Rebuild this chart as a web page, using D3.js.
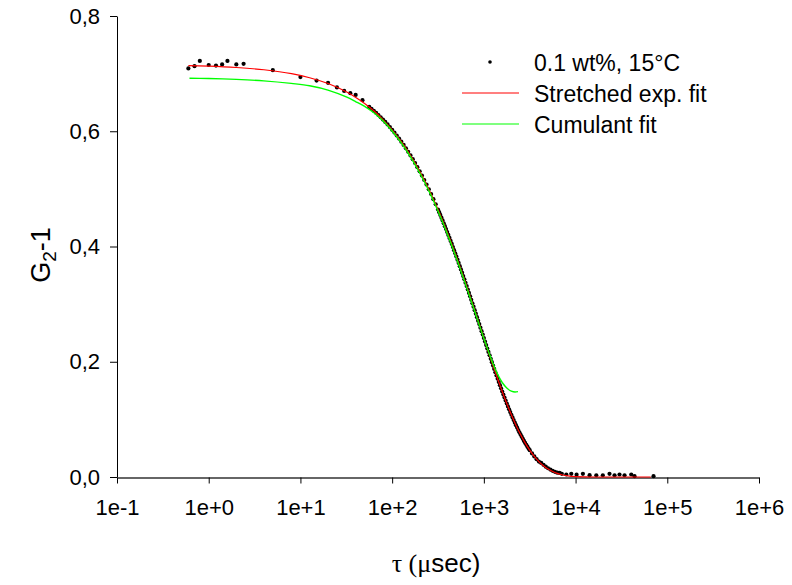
<!DOCTYPE html>
<html>
<head>
<meta charset="utf-8">
<script src="https://cdn.jsdelivr.net/npm/d3@7"></script>
<style>
    body { margin: 0; background: #fff; }
    svg { display: block; font-family: "Liberation Sans", Arial, sans-serif; }
</style>
</head>
<body>
<svg id="chart" width="792" height="585"></svg>
<script>
// measured data: delay time tau (usec) and G2-1
var tauData = [0.6, 0.7, 0.8, 1.0, 1.2, 1.4, 1.6, 2.0, 2.4, 5, 10, 15, 20, 25, 30, 35, 40, 47.5,
    56.23, 59.57, 63.10, 66.83, 70.79, 74.99, 79.43, 84.14, 89.13, 94.41, 100.0, 105.9, 112.2, 118.9,
    125.9, 133.4, 141.3, 149.6, 158.5, 167.9, 177.8, 188.4, 199.5, 211.3, 223.9, 237.1, 251.2, 266.1,
    281.8, 298.5, 316.2, 325.5, 335.0, 344.7, 354.8, 365.2, 375.8, 386.8, 398.1, 409.7, 421.7, 434.0,
    446.7, 459.7, 473.2, 487.0, 501.2, 515.8, 530.9, 546.4, 562.3, 578.8, 595.7, 613.1, 631.0, 649.4,
    668.3, 687.9, 707.9, 728.6, 749.9, 771.8, 794.3, 817.5, 841.4, 866.0, 891.3, 917.3, 944.1, 971.7,
    1000, 1029, 1059, 1090, 1122, 1155, 1189, 1223, 1259, 1296, 1334, 1373, 1413, 1454, 1496, 1540,
    1585, 1631, 1679, 1728, 1778, 1830, 1884, 1939, 1995, 2054, 2113, 2175, 2239, 2304, 2371, 2441,
    2512, 2585, 2661, 2738, 2818, 2901, 2985, 3073, 3162, 3350, 3548, 3758, 3981, 4217, 4467, 4732,
    5012, 5309, 5623, 5957, 6310, 6700, 7079, 7925, 8980, 10260, 12020, 14220, 16830, 19830, 23440,
    26600, 30130, 34200, 40460, 43950, 70790];
var g2Data = [0.709, 0.713, 0.722, 0.715, 0.714, 0.716, 0.722, 0.716, 0.717, 0.706, 0.694, 0.688, 0.684, 0.676, 0.670, 0.666, 0.663, 0.654,
    0.6422, 0.6389, 0.6355, 0.6319, 0.6282, 0.6243, 0.6203, 0.6161, 0.6118, 0.6072, 0.6025, 0.5977, 0.5926, 0.5873,
    0.5819, 0.5762, 0.5704, 0.5643, 0.5580, 0.5515, 0.5447, 0.5377, 0.5305, 0.5231, 0.5154, 0.5075, 0.4993, 0.4909,
    0.4822, 0.4733, 0.4642, 0.4595, 0.4548, 0.4500, 0.4452, 0.4403, 0.4353, 0.4303, 0.4252, 0.4201, 0.4149, 0.4097,
    0.4044, 0.3990, 0.3936, 0.3882, 0.3827, 0.3771, 0.3715, 0.3659, 0.3602, 0.3545, 0.3487, 0.3430, 0.3371, 0.3313,
    0.3254, 0.3194, 0.3135, 0.3075, 0.3015, 0.2955, 0.2895, 0.2834, 0.2774, 0.2713, 0.2653, 0.2592, 0.2531, 0.2471,
    0.2410, 0.2350, 0.2290, 0.2230, 0.2170, 0.2111, 0.2051, 0.1993, 0.1934, 0.1876, 0.1818, 0.1761, 0.1705, 0.1649, 0.1593, 0.1539,
    0.1484, 0.1431, 0.1378, 0.1327, 0.1275, 0.1225, 0.1176, 0.1127, 0.1080, 0.1033, 0.0988, 0.0943, 0.0900, 0.0857, 0.0816, 0.0776,
    0.0737, 0.0699, 0.0662, 0.0626, 0.0592, 0.0558, 0.0526, 0.0495, 0.0465, 0.0409, 0.0357, 0.0310, 0.0268, 0.0245, 0.0212, 0.0180,
    0.0152, 0.0128, 0.0108, 0.0090, 0.0075, 0.0070, 0.0055, 0.0043, 0.0055, 0.0040, 0.0055, 0.0032, 0.0030, 0.0030, 0.0055,
    0.0030, 0.0043, 0.0030, 0.0043, 0.0014, 0.0014];

// stretched exponential fit
var tauStretched = [0.6, 1, 2, 4, 8, 12.6, 20, 31.6, 39.8, 50.1, 63.1, 79.4, 100, 112.2, 125.9, 141.3, 158.5, 177.8,
    199.5, 223.9, 251.2, 281.8, 316.2, 354.8, 398.1, 446.7, 501.2, 562.3, 631, 707.9, 794.3, 891.3, 1000, 1122,
    1259, 1413, 1585, 1778, 1995, 2239, 2512, 2818, 3162, 3548, 3981, 4467, 5012, 5623, 6310, 7079, 7943, 10000,
    15850, 66000];
var g2Stretched = [0.7139, 0.7129, 0.7106, 0.7067, 0.6999, 0.6929, 0.6828, 0.6685, 0.6592, 0.6483, 0.6355, 0.6203, 0.6025, 0.5926, 0.5819, 0.5704, 0.5580, 0.5447,
    0.5305, 0.5154, 0.4993, 0.4822, 0.4642, 0.4452, 0.4252, 0.4044, 0.3827, 0.3602, 0.3371, 0.3135, 0.2895, 0.2653, 0.2410, 0.2170,
    0.1934, 0.1705, 0.1484, 0.1275, 0.1080, 0.0900, 0.0737, 0.0592, 0.0465, 0.0357, 0.0268, 0.0195, 0.0138, 0.0094, 0.0062, 0.0039, 0.0024, 0.0007,
    0.0000, 0.0000];

// cumulant fit
var tauCumulant = [0.617, 1, 2, 3.98, 7.94, 12.59, 19.95, 31.62, 39.81, 50.12, 63.1, 79.4, 100, 125.9, 158.5, 199.5,
    251.2, 316.2, 398.1, 501.2, 631, 794.3, 1000, 1122, 1259, 1413, 1585, 1778, 1995, 2188, 2355];
var g2Cumulant = [0.692, 0.6915, 0.6900, 0.6875, 0.6830, 0.6790, 0.6715, 0.6595, 0.6515, 0.6430, 0.6320, 0.6183, 0.6005, 0.5797, 0.5556, 0.5280,
    0.4967, 0.4615, 0.4225, 0.3800, 0.3347, 0.2877, 0.2405, 0.2180, 0.1965, 0.1780, 0.1640, 0.1545, 0.1490, 0.1475, 0.1482];

var xTickValues = [1e-1, 1e0, 1e1, 1e2, 1e3, 1e4, 1e5, 1e6];
var yTickValues = [0, 0.2, 0.4, 0.6, 0.8];
var legendLabels = ["0.1 wt%, 15\u00B0C", "Stretched exp. fit", "Cumulant fit"];
var legendColors = ["#000000", "#ff0000", "#00ff00"];

var svg = d3.select("#chart");

var x = d3.scaleLog().domain([1e-1, 1e6]).range([117, 759]);
var y = d3.scaleLinear().domain([0, 0.8]).range([477, 16]);

function expFormat(d) {
    var e = Math.round(Math.log10(d));
    return "1e" + (e < 0 ? "-" : "+") + Math.abs(e);
}

var xAxis = svg.append("g")
    .attr("transform", "translate(0,477.5)")
    .call(d3.axisBottom(x).tickValues(xTickValues).tickFormat(expFormat)
        .tickSize(6).tickSizeOuter(0).tickPadding(16));
xAxis.select(".domain").attr("stroke", "#333").attr("stroke-width", 1.3);
xAxis.selectAll("text").attr("font-size", 22).attr("font-family", "Liberation Sans, Arial, sans-serif").attr("fill", "#000");

var yAxis = svg.append("g")
    .attr("transform", "translate(117,0)")
    .call(d3.axisLeft(y).tickValues(yTickValues)
        .tickFormat(function (d) { return d3.format(".1f")(d).replace(".", ","); })
        .tickSize(7).tickSizeOuter(0).tickPadding(10));
yAxis.selectAll("text").attr("font-size", 22).attr("font-family", "Liberation Sans, Arial, sans-serif").attr("fill", "#000");

var line = d3.line()
    .x(function (d) { return x(d[0]); })
    .y(function (d) { return y(d[1]); })
    .curve(d3.curveMonotoneX);

// data dots
svg.append("g")
    .selectAll("circle")
    .data(d3.zip(tauData, g2Data))
    .enter().append("circle")
    .attr("cx", function (d) { return x(d[0]); })
    .attr("cy", function (d) { return y(d[1]); })
    .attr("r", 2.1)
    .attr("fill", "#000");

svg.append("path")
    .datum(d3.zip(tauStretched, g2Stretched))
    .attr("d", line)
    .attr("fill", "none")
    .attr("stroke", "#ff0000")
    .attr("stroke-width", 1.2);

svg.append("path")
    .datum(d3.zip(tauCumulant, g2Cumulant))
    .attr("d", line)
    .attr("fill", "none")
    .attr("stroke", "#00ff00")
    .attr("stroke-width", 1.4);

// legend
var legend = svg.append("g");
legendLabels.forEach(function (label, i) {
    var ly = 62 + i * 31;
    if (i === 0) {
        legend.append("circle").attr("cx", 490).attr("cy", ly).attr("r", 1.8).attr("fill", legendColors[i]);
    } else {
        legend.append("line").attr("x1", 462).attr("x2", 519).attr("y1", ly).attr("y2", ly)
            .attr("stroke", legendColors[i]).attr("stroke-width", 1.2);
    }
    legend.append("text").attr("x", 534).attr("y", ly + 8.5)
        .attr("font-size", 23).text(label);
});

// axis titles
svg.append("text")
    .attr("transform", "translate(50,255) rotate(-90)")
    .attr("text-anchor", "middle")
    .attr("font-size", 27)
    .html('G<tspan font-size="19" dy="6">2</tspan><tspan dy="-6">-1</tspan>');

svg.append("text")
    .attr("x", 436)
    .attr("y", 572)
    .attr("text-anchor", "middle")
    .attr("font-size", 26)
    .html('<tspan font-family="Liberation Serif, Times New Roman, serif">\u03C4 (\u03BC</tspan>sec)');
</script>
</body>
</html>
